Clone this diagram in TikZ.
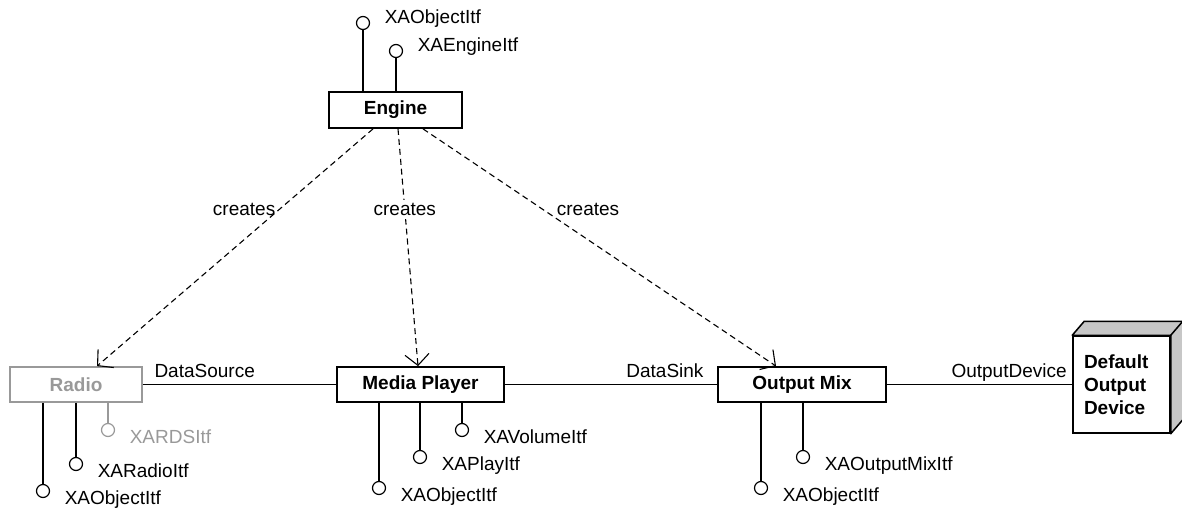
\documentclass[tikz,border=0pt]{standalone}
\usepackage{fontspec}
\setmainfont{Liberation Sans}
\usetikzlibrary{positioning,arrows.meta}
\definecolor{inactive}{gray}{0.6}
\definecolor{sideface}{gray}{0.78}

\begin{document}
\begin{tikzpicture}[x=1pt, y=-1pt,
    font=\fontsize{19}{23}\selectfont,
    object/.style={draw, line width=1.8pt, minimum height=35pt, inner sep=0pt, font=\fontsize{19}{23}\selectfont\bfseries},
    ball/.style={draw, circle, fill=white, line width=1.2pt, minimum size=13pt, inner sep=0pt},
    stem/.style={line width=1.3pt},
    lowitf/.style={inner sep=0pt, right=14.5pt of #1, anchor=base west, yshift=-13.5pt},
    highitf/.style={inner sep=0pt, right=14.5pt of #1, anchor=base west, yshift=-0.5pt},
    link/.style={line width=1.2pt},
    linklabel/.style={inner sep=0pt, yshift=7pt},
    creates/.style={dash pattern=on 6pt off 4pt, line width=1.1pt, -{Straight Barb[length=11pt,width=24pt]}}
    ]
    \useasboundingbox (0,0) rectangle (1182,508);

    % objects
    \node (engine) [object, minimum width=133pt, minimum height=36pt] at (395.5,110) {Engine};
    \node (radio) [object, draw=inactive, text=inactive, minimum width=132pt] at (76,384.5) {Radio};
    \node (player) [object, minimum width=167pt] at (420.5,384.5) {Media Player};
    \node (mix) [object, minimum width=168pt] at (802,384.5) {Output Mix};
    \node (device) [draw, line width=1.5pt, fill=white, minimum width=97pt, minimum height=97pt, inner xsep=11pt, text width=75pt, align=left, font=\fontsize{19}{23}\selectfont\bfseries] at (1121.5,384.5) {Default\\Output\\Device};
    \draw [line width=1.5pt, fill=sideface, line join=round] (device.north west) -- ++(12,-14) -- ([shift={(12,-14)}]device.north east) -- ([shift={(12,-14)}]device.south east) -- (device.south east) -- (device.north east) -- cycle;
    \draw [line width=1.5pt] (device.north east) -- ++(12,-14);

    % engine interfaces
    \node (eng-obj) [ball] at (363,23) {};
    \node (eng-eng) [ball] at (396,51) {};
    \draw [stem] (engine.north -| eng-obj) -- (eng-obj);
    \draw [stem] (engine.north -| eng-eng) -- (eng-eng);
    \node [highitf=eng-obj] {XAObjectItf};
    \node [highitf=eng-eng] {XAEngineItf};

    % radio interfaces
    \node (rad-obj) [ball] at (43,491) {};
    \node (rad-rad) [ball] at (76,464) {};
    \node (rad-rds) [ball, draw=inactive] at (108,430) {};
    \draw [stem] (radio.south -| rad-obj) -- (rad-obj);
    \draw [stem] (radio.south -| rad-rad) -- (rad-rad);
    \draw [stem, inactive] (radio.south -| rad-rds) -- (rad-rds);
    \node [lowitf=rad-obj] {XAObjectItf};
    \node [lowitf=rad-rad] {XARadioItf};
    \node [lowitf=rad-rds, text=inactive] {XARDSItf};

    % player interfaces
    \node (ply-obj) [ball] at (379,488) {};
    \node (ply-play) [ball] at (420,457) {};
    \node (ply-vol) [ball] at (462,430) {};
    \draw [stem] (player.south -| ply-obj) -- (ply-obj);
    \draw [stem] (player.south -| ply-play) -- (ply-play);
    \draw [stem] (player.south -| ply-vol) -- (ply-vol);
    \node [lowitf=ply-obj] {XAObjectItf};
    \node [lowitf=ply-play] {XAPlayItf};
    \node [lowitf=ply-vol] {XAVolumeItf};

    % output mix interfaces
    \node (mix-obj) [ball] at (761,488) {};
    \node (mix-mix) [ball] at (803,457) {};
    \draw [stem] (mix.south -| mix-obj) -- (mix-obj);
    \draw [stem] (mix.south -| mix-mix) -- (mix-mix);
    \node [lowitf=mix-obj] {XAObjectItf};
    \node [lowitf=mix-mix] {XAOutputMixItf};

    % links
    \draw [link] (radio.east) -- node [linklabel, pos=0, anchor=base west, xshift=11pt] {DataSource} (player.west);
    \draw [link] (player.east) -- node [linklabel, pos=1, anchor=base east, xshift=-13pt] {DataSink} (mix.west);
    \draw [link] (mix.east) -- node [linklabel, pos=1, anchor=base east, xshift=-5pt] {OutputDevice} (device.west);

    % creation
    \draw [creates] ([xshift=-22.5pt]engine.south) -- node [pos=.34, left] {creates} ([xshift=21pt]radio.north);
    \draw [creates] ([xshift=2.5pt]engine.south) -- node [pos=.34, fill=white] {creates} ([xshift=-2.5pt]player.north);
    \draw [creates] ([xshift=27.5pt]engine.south) -- node [pos=.34, right, xshift=10pt] {creates} ([xshift=-26pt]mix.north);
\end{tikzpicture}
\end{document}
